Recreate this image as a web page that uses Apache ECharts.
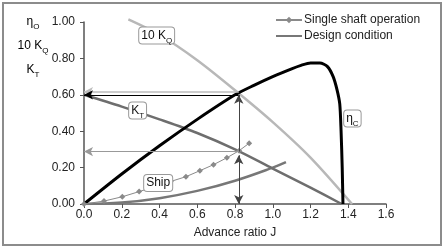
<!DOCTYPE html>
<html>
<head>
<meta charset="utf-8">
<script src="https://cdn.jsdelivr.net/npm/echarts@6/dist/echarts.min.js"></script>
<style>
  html, body { margin: 0; padding: 0; background: #fff; }
  #chart { width: 445px; height: 252px; }
</style>
</head>
<body>
<div id="chart"></div>
<script>
  // values
  var etaJ = [0, 0.2, 0.4, 0.6, 0.8, 0.9, 1.0, 1.1, 1.15, 1.2, 1.25, 1.29, 1.32, 1.34, 1.355, 1.362, 1.368, 1.372]
  var etaV = [0, 0.165, 0.32, 0.465, 0.60, 0.652, 0.70, 0.743, 0.762, 0.775, 0.775, 0.755, 0.70, 0.63, 0.55, 0.40, 0.20, 0.0]

  var kqJ = [0.235, 0.4, 0.6, 0.8, 1.0, 1.2, 1.42]
  var kqV = [1.015, 0.93, 0.79, 0.625, 0.45, 0.255, 0.0]

  var ktJ = [0, 0.2, 0.4, 0.6, 0.8, 1.0, 1.2, 1.365]
  var ktV = [0.60, 0.535, 0.465, 0.39, 0.30, 0.195, 0.09, 0.0]

  var shipJ = [0, 0.2, 0.4, 0.6, 0.8, 1.0, 1.07]
  var shipV = [0, 0.008, 0.032, 0.072, 0.128, 0.2, 0.23]

  var singleJ = [0, 0.106, 0.203, 0.292, 0.38, 0.46, 0.54, 0.614, 0.686, 0.757, 0.822, 0.875]
  var singleV = [0, 0.016, 0.04, 0.068, 0.097, 0.124, 0.15, 0.183, 0.216, 0.254, 0.293, 0.334]

  // operating point used by the arrows
  var opJ = 0.82
  var opEta = 0.60
  var opKq = 0.617
  var opKt = 0.288

  function pairs (xs, ys) {
    return xs.map(function (x, i) { return [x, ys[i]] })
  }

  var font = 'Liberation Sans, Arial, sans-serif'
  var richSub = {
    n: { fontSize: 12, fontFamily: font, color: '#111', lineHeight: 14 },
    s: { fontSize: 8, fontFamily: font, color: '#111', verticalAlign: 'bottom', lineHeight: 8, padding: [0, 0, -2, 0] }
  }

  function boxLabel (text, coord) {
    return {
      coord: coord,
      symbol: 'rect',
      symbolSize: 0,
      label: {
        show: true,
        position: 'inside',
        formatter: text,
        backgroundColor: '#fff',
        borderColor: '#999',
        borderWidth: 1,
        borderRadius: 3,
        padding: [1, 2, 1, 2],
        rich: richSub
      }
    }
  }

  function arrow (from, to, color, width, symbols) {
    return [
      { coord: from, symbol: symbols[0], lineStyle: { color: color, width: width, type: 'solid' } },
      { coord: to, symbol: symbols[1] }
    ]
  }

  var chart = echarts.init(document.getElementById('chart'))
  var option = {
    animation: false,
    textStyle: { fontFamily: font },
    grid: { left: 84, right: 59, top: 22, bottom: 48 },
    legend: {
      orient: 'vertical',
      left: 270,
      top: 9,
      itemWidth: 26,
      itemHeight: 8,
      itemGap: 4,
      data: [
        { name: 'Single shaft operation' },
        { name: 'Design condition', itemStyle: { color: 'rgba(0,0,0,0)', borderWidth: 0 } }
      ],
      textStyle: { fontSize: 12, color: '#222', fontFamily: font, padding: [0, 0, 0, -3] }
    },
    xAxis: {
      type: 'value',
      min: 0,
      max: 1.6,
      interval: 0.2,
      name: 'Advance ratio J',
      nameLocation: 'middle',
      nameGap: 23,
      nameTextStyle: { fontSize: 12, color: '#222', fontFamily: font },
      axisLine: { lineStyle: { color: '#555', width: 1.5 } },
      axisTick: { length: 4, lineStyle: { color: '#555' } },
      axisLabel: { margin: 5, fontSize: 12, color: '#222', formatter: function (v) { return v.toFixed(1) } },
      splitLine: { show: false }
    },
    yAxis: {
      type: 'value',
      min: 0,
      max: 1,
      interval: 0.2,
      axisLine: { show: true, lineStyle: { color: '#555', width: 1.5 } },
      axisTick: { show: true, length: 4, lineStyle: { color: '#555' } },
      axisLabel: { margin: 9, fontSize: 12, color: '#222', formatter: function (v) { return v.toFixed(2) } },
      splitLine: { show: false }
    },
    graphic: [
      { type: 'rect', shape: { x: 3, y: 3, width: 438, height: 242 }, style: { fill: 'none', stroke: '#8c8c8c', lineWidth: 2 }, silent: true },
      { type: 'text', x: 33, y: 22, style: { text: '{n|η}{s|O}', rich: richSub, align: 'center', verticalAlign: 'middle' } },
      { type: 'text', x: 33, y: 46, style: { text: '{n|10 K}{s|Q}', rich: richSub, align: 'center', verticalAlign: 'middle' } },
      { type: 'text', x: 33, y: 70, style: { text: '{n|K}{s|T}', rich: richSub, align: 'center', verticalAlign: 'middle' } }
    ],
    series: [
      {
        // the ship curve is the design condition
        name: 'Design condition',
        type: 'line',
        data: pairs(shipJ, shipV),
        smooth: 0.4,
        symbol: 'none',
        itemStyle: { color: '#6e6e6e' },
        lineStyle: { color: '#777', width: 2.5 },
        markPoint: { silent: true, data: [boxLabel('{n|Ship}', [0.393, 0.115])] }
      },
      {
        name: 'KT',
        type: 'line',
        data: pairs(ktJ, ktV),
        smooth: 0.3,
        symbol: 'none',
        lineStyle: { color: '#6e6e6e', width: 2.5 }
      },
      {
        name: '10KQ',
        type: 'line',
        data: pairs(kqJ, kqV),
        smooth: 0.3,
        clip: false,
        symbol: 'none',
        lineStyle: { color: '#b8b8b8', width: 2.5 }
      },
      {
        name: 'eta',
        type: 'line',
        data: pairs(etaJ, etaV),
        smooth: 0.25,
        symbol: 'none',
        lineStyle: { color: '#000', width: 3 },
        markLine: {
          silent: true,
          symbolSize: [7, 9],
          label: { show: false },
          data: [
            arrow([opJ, opKq], [0, opKq], '#bdbdbd', 1.5, ['none', 'arrow']),
            arrow([opJ, opEta], [0, opEta], '#000', 1, ['none', 'arrow']),
            arrow([opJ, opKt], [0, opKt], '#999', 1, ['none', 'arrow']),
            arrow([opJ, opKt], [opJ, opEta], '#444', 1, ['none', 'arrow']),
            arrow([opJ, opKt - 0.02], [opJ, 0], '#444', 1, ['arrow', 'arrow'])
          ]
        },
        markPoint: {
          silent: true,
          data: [
            boxLabel('{n|10 K}{s|Q}', [0.385, 0.926]),
            boxLabel('{n|K}{s|T}', [0.284, 0.514]),
            boxLabel('{n|η}{s|C}', [1.422, 0.47])
          ]
        }
      },
      {
        name: 'Single shaft operation',
        type: 'line',
        data: pairs(singleJ, singleV),
        symbol: 'diamond',
        symbolSize: 6,
        showSymbol: true,
        itemStyle: { color: '#8a8a8a' },
        lineStyle: { color: '#8a8a8a', width: 1 }
      }
    ]
  }
  chart.setOption(option)
</script>
</body>
</html>
